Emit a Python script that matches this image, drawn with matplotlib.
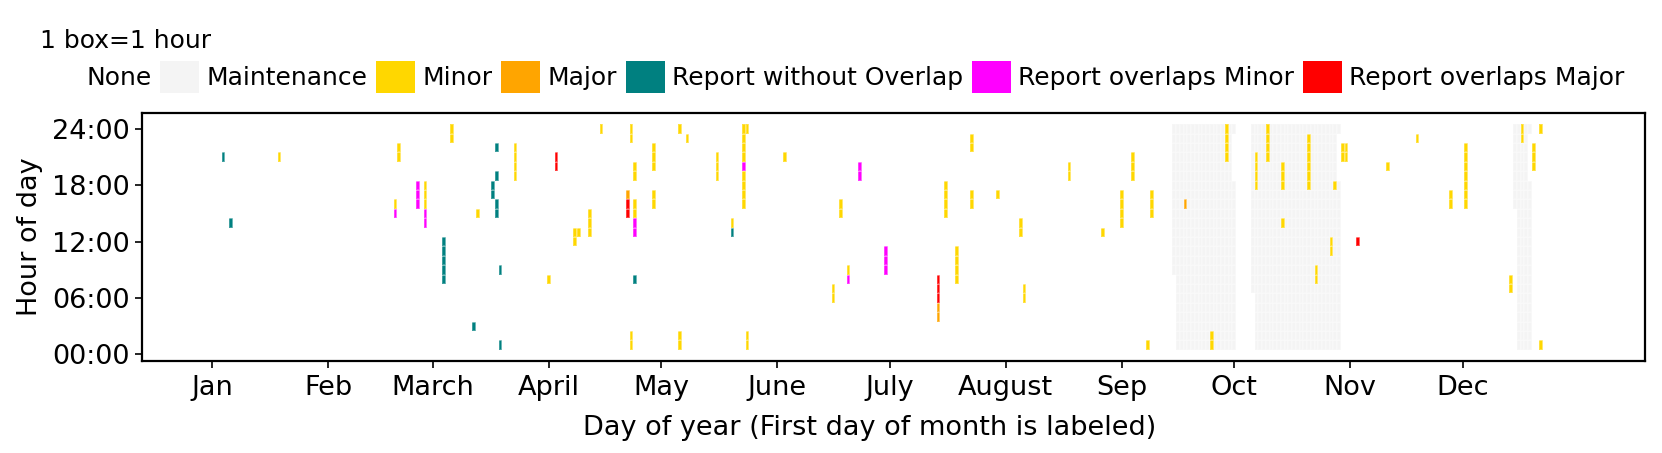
import matplotlib

matplotlib.use("Agg")
import matplotlib.pyplot as plt
import numpy as np
from matplotlib.colors import ListedColormap
from matplotlib.patches import Patch

# status categories and their colours
categories = ["None", "Maintenance", "Minor", "Major", "Report without Overlap",
              "Report overlaps Minor", "Report overlaps Major"]
colors = ["white", "#f4f4f4", "#ffd700", "#ffa500", "#008080", "#ff00ff", "#ff0000"]

# maintenance windows: (first day, last day, first hour, last hour)
maintenance = [
    (258, 258, 9, 24), (259, 273, 1, 24), (274, 274, 1, 18), (274, 274, 24, 24),
    (279, 279, 7, 24), (280, 301, 1, 24), (302, 302, 1, 18), (302, 302, 24, 24),
    (349, 349, 16, 24), (350, 352, 1, 24), (353, 353, 1, 18), (353, 353, 24, 24),
]

# incidents / reports: (day of year, first hour, last hour)
minor = [
    (19, 21, 21), (50, 16, 16), (51, 21, 22), (58, 16, 18), (65, 23, 24), (72, 15, 15),
    (82, 19, 22), (91, 8, 8), (98, 12, 13), (99, 13, 13), (102, 13, 15), (105, 24, 24),
    (113, 23, 24), (113, 1, 2), (114, 15, 16), (114, 19, 20), (119, 20, 22), (119, 16, 17),
    (126, 24, 24), (126, 1, 2), (128, 23, 23), (136, 19, 21), (140, 14, 14), (143, 21, 24),
    (143, 16, 19), (144, 24, 24), (144, 1, 2), (154, 21, 21), (167, 6, 7), (169, 15, 16),
    (171, 9, 9), (197, 15, 18), (200, 8, 11), (204, 22, 23), (204, 16, 17), (211, 17, 17),
    (217, 13, 14), (218, 6, 7), (230, 19, 20), (239, 13, 13), (244, 14, 17), (247, 19, 21),
    (251, 1, 1), (252, 15, 17), (268, 1, 2), (272, 21, 24), (280, 18, 21), (283, 21, 24),
    (287, 18, 20), (287, 14, 14), (294, 18, 23), (296, 8, 9), (300, 11, 12), (301, 18, 18),
    (303, 21, 22), (304, 21, 22), (315, 20, 20), (323, 23, 23), (332, 16, 17), (336, 16, 22),
    (348, 7, 8), (351, 23, 24), (354, 20, 22), (356, 24, 24), (356, 1, 1),
]
major = [(112, 17, 17), (195, 4, 5), (261, 16, 16)]
report_only = [
    (4, 21, 21), (6, 14, 14), (63, 8, 12), (71, 3, 3), (76, 17, 18), (77, 22, 22),
    (77, 19, 19), (77, 15, 16), (78, 9, 9), (78, 1, 1), (114, 8, 8), (140, 13, 13),
]
report_minor = [
    (50, 15, 15), (56, 16, 18), (58, 14, 15), (114, 13, 14), (143, 20, 20),
    (171, 8, 8), (174, 19, 20), (181, 9, 11),
]
report_major = [(93, 20, 21), (112, 15, 16), (195, 6, 8), (307, 12, 12)]

month_names = ["Jan", "Feb", "March", "April", "May", "June", "July", "August",
               "Sep", "Oct", "Nov", "Dec"]
month_first_day = [1, 32, 60, 91, 121, 152, 182, 213, 244, 274, 305, 335]
hour_ticks = [0, 6, 12, 18, 24]
hour_labels = ["00:00", "06:00", "12:00", "18:00", "24:00"]

n_days, n_hours = 365, 24
grid = np.zeros((n_hours, n_days), dtype=int)
for d0, d1, h0, h1 in maintenance:
    grid[h0 - 1:h1, d0 - 1:d1] = 1
for code, runs in [(2, minor), (3, major), (4, report_only), (5, report_minor), (6, report_major)]:
    for d, h0, h1 in runs:
        grid[h0 - 1:h1, d - 1] = code

fig = plt.figure(figsize=(16.62, 4.53), dpi=100)
ax = fig.add_axes([142 / 1662, 92 / 453, 1503 / 1662, 248 / 453])

xe = np.arange(n_days + 1) + 0.5
ye = np.arange(n_hours + 1) + 0.5
ax.pcolormesh(xe, ye, grid, cmap=ListedColormap(colors), vmin=-0.5, vmax=6.5,
              edgecolors=(1, 1, 1, 0.25), linewidth=0.1)

ax.set_xlim(-17.75, 383.75)
ax.set_ylim(-0.7, 25.7)
ax.set_xticks(month_first_day)
ax.set_xticklabels(month_names)
ax.set_yticks(hour_ticks)
ax.set_yticklabels(hour_labels)
ax.tick_params(labelsize=19.5, length=5, width=1.2, pad=4)
ax.tick_params(axis="x", pad=5)
for s in ax.spines.values():
    s.set_linewidth(1.6)
ax.set_xlabel("Day of year (First day of month is labeled)", fontsize=19.5, labelpad=10)
ax.xaxis.label.set_x(0.484)
ax.set_ylabel("Hour of day", fontsize=19.5, labelpad=6)

handles = [Patch(facecolor=c, edgecolor="none") for c in colors]
fig.legend(handles, categories, loc="upper left", bbox_to_anchor=(40 / 1662, 1 - 29 / 453),
           ncol=7, frameon=False, title="1 box=1 hour", alignment="left", fontsize=18,
           handlelength=1.55, handleheight=1.55, handletextpad=0.3, columnspacing=0.35,
           labelspacing=0.33, borderpad=0, borderaxespad=0, title_fontsize=18)

fig.savefig("out.png", dpi=100)
